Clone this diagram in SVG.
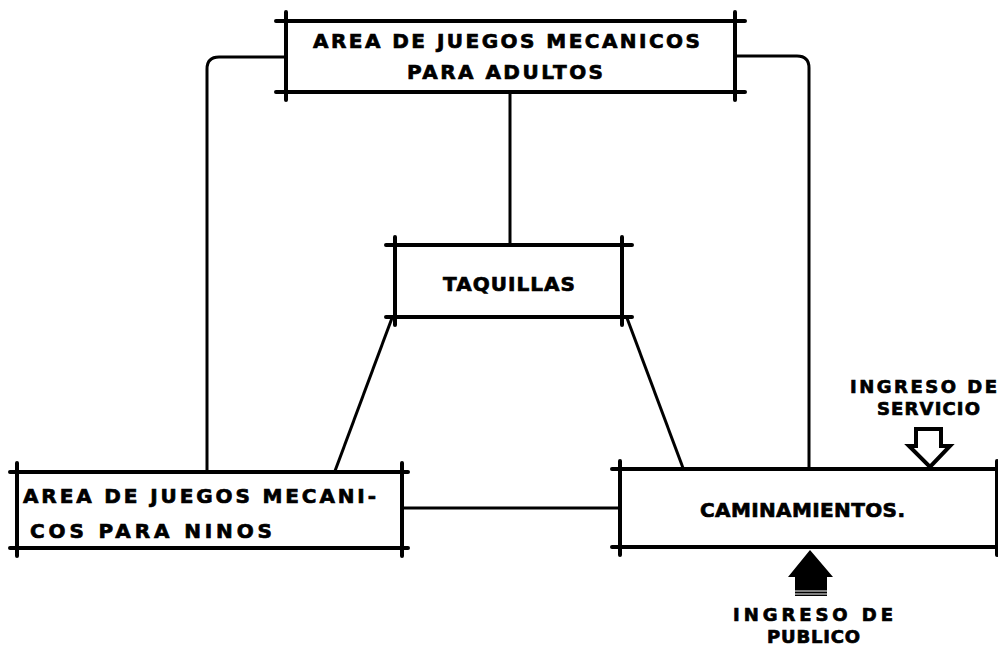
<svg xmlns="http://www.w3.org/2000/svg" width="998" height="646" viewBox="0 0 998 646">
<style>
.box{stroke:#000;stroke-width:4;stroke-linecap:round;fill:none}
.con{stroke:#000;stroke-width:3;fill:none}
.t{font-family:"DejaVu Sans","Liberation Sans",sans-serif;font-weight:bold;font-size:20px;fill:#000;stroke:#000;stroke-width:0.7}
.s{font-size:18px}
</style>
<rect width="998" height="646" fill="#fff"/>
<g id="connectors">
<path class="con" d="M286 57 H219 Q207 57 207 69 V470"/>
<path class="con" d="M735 56 H797 Q809 56 809 68 V467"/>
<line class="con" x1="510" y1="92" x2="510" y2="245"/>
<line class="con" x1="392" y1="318" x2="335" y2="471"/>
<line class="con" x1="627" y1="318" x2="683" y2="468"/>
<line class="con" x1="402" y1="508" x2="620" y2="508"/>
</g>
<g id="adultos">
<path class="box" d="M276 21 H745 M276 92 H745 M286 12 V100 M735 12 V100"/>
<text class="t" x="313" y="48" textLength="387" lengthAdjust="spacing">AREA DE JUEGOS MECANICOS</text>
<text class="t" x="407" y="79" textLength="196" lengthAdjust="spacing">PARA ADULTOS</text>
</g>
<g id="taquillas">
<path class="box" d="M386 245 H632 M386 317 H632 M395 237 V325 M622 237 V325"/>
<text class="t" x="443" y="291" textLength="132" lengthAdjust="spacing">TAQUILLAS</text>
</g>
<g id="ninos">
<path class="box" d="M10 472 H408 M10 548 H408 M17 463 V556 M402 463 V556"/>
<text class="t" x="23" y="503" textLength="353" lengthAdjust="spacing">AREA DE JUEGOS MECANI-</text>
<text class="t" x="30" y="538" textLength="242" lengthAdjust="spacing">COS PARA NINOS</text>
</g>
<g id="caminamientos">
<path class="box" d="M612 469 H998 M612 547 H998 M620 461 V555 M997 461 V555"/>
<text class="t" x="700" y="517" textLength="205" lengthAdjust="spacing">CAMINAMIENTOS.</text>
</g>
<g id="ingreso-servicio">
<path d="M916 429 H941 V446 H950 L930 467 L909 446 H916 Z" fill="#fff" stroke="#000" stroke-width="4" stroke-linejoin="miter"/>
<text class="t s" x="850" y="393" textLength="147" lengthAdjust="spacing">INGRESO DE</text>
<text class="t s" x="877" y="415" textLength="103" lengthAdjust="spacing">SERVICIO</text>
</g>
<g id="ingreso-publico">
<path d="M810 550 L833 577 H827 V596 H795 V577 H788 Z" fill="#000"/>
<line x1="795" y1="591" x2="827" y2="591" stroke="#fff" stroke-width="1"/>
<line x1="795" y1="594" x2="827" y2="594" stroke="#fff" stroke-width="1"/>
<text class="t s" x="733" y="621" textLength="160" lengthAdjust="spacing">INGRESO  DE</text>
<text class="t s" x="767" y="643" textLength="93" lengthAdjust="spacing">PUBLICO</text>
</g>
</svg>
